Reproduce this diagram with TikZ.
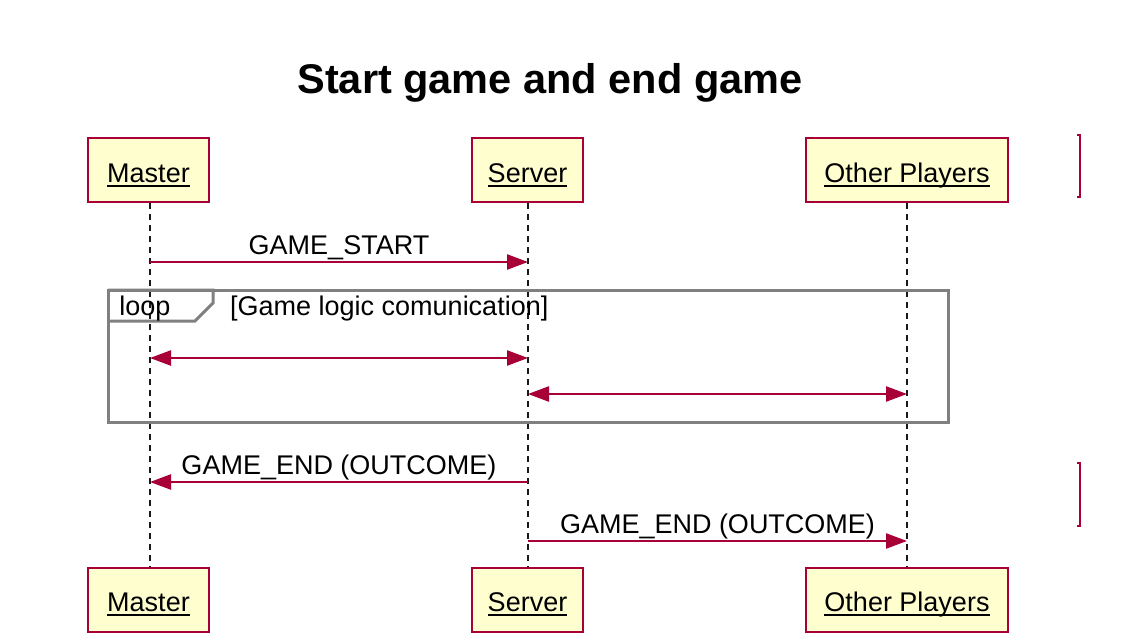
\documentclass[tikz,border=0pt]{standalone}
\usepackage{fontspec}
\setmainfont{Liberation Sans}
\usetikzlibrary{positioning}
\usetikzlibrary{calc}
\usetikzlibrary{arrows.meta}
\definecolor{participant colour}{HTML}{FEFECE}
\definecolor{border colour}{HTML}{A80036}
\colorlet{frame colour}{black!50}
\colorlet{lifeline colour}{black!90}
% participant names are underlined with a heavier rule
\newcommand{\actorname}[1]{\setbox0\hbox{#1}%
    \rlap{\vrule height -2.5pt depth 4.5pt width \wd0}\box0}
\tikzset{
    % Filled triangle tips, as in the sequence chart
    >={Triangle[length=21pt,width=15pt]},
%
    % Define a set of styles
    % First the participant boxes
    participant/.style={
        draw=border colour, line width=2pt, fill=participant colour,
        inner sep=0pt, minimum height=64pt, minimum width=#1,
        text height=28pt, text depth=4pt,
        font=\fontsize{27}{32}\selectfont},
    % Next some lines
    lifeline/.style={color=lifeline colour, line width=2.2pt,
        dash pattern=on 6pt off 5pt},
    message/.style={color=border colour, line width=2.4pt},
    frame/.style={draw=frame colour, line width=3pt},
    % Message labels sit on the baseline just above the arrow
    msg label/.style={anchor=base, yshift=8pt, inner sep=0pt, text=black,
        font=\fontsize{27}{32}\selectfont},
    every node/.style={align=center},
}

\begin{document}
\begin{tikzpicture}[x=1pt, y=-1pt]

\useasboundingbox (0,0) rectangle (1144,637);

\node (title) [anchor=base, font=\fontsize{41.5}{48}\selectfont\bfseries]
    at (550,93) {Start game and end game};

% participants, top and bottom
\path
    (148.5,170) node (master) [participant=121pt] {\actorname{Master}}
    (527.5,170) node (server) [participant=111pt] {\actorname{Server}}
    (907,170) node (others) [participant=202pt] {\actorname{Other Players}}
    (148.5,599.5) node (master end) [participant=121pt] {\actorname{Master}}
    (527.5,599.5) node (server end) [participant=111pt] {\actorname{Server}}
    (907,599.5) node (others end) [participant=202pt] {\actorname{Other Players}};

% lifelines
\draw [lifeline] ($(master.south)+(1.5,0)$) -- ($(master end.north)+(1.5,0)$);
\draw [lifeline] ($(server.south)+(0.5,0)$) -- ($(server end.north)+(0.5,0)$);
\draw [lifeline] (others.south) -- (others end.north);

\coordinate (m) at (150,0);
\coordinate (s) at (528,0);
\coordinate (o) at (907,0);

% loop frame
\draw [frame] (108,290) rectangle (948,422);
\draw [frame] (108,290) -- (213,290) -- (213,303) -- (195,321) -- (108,321);
\node (loop) [anchor=base, inner sep=0pt, font=\fontsize{27}{32}\selectfont]
    at (145,315) {loop};
\node (guard) [anchor=base west, inner sep=0pt,
    font=\fontsize{27}{32}\selectfont]
    at (230,315) {[Game logic comunication]};

% messages
\draw [message, ->] (m |- 0,262) -- (s |- 0,262)
    node [msg label, midway] {GAME\_START};
\draw [message, <->] (m |- 0,358) -- (s |- 0,358);
\draw [message, <->] (s |- 0,394) -- (o |- 0,394);
\draw [message, ->] (s |- 0,482) -- (m |- 0,482)
    node [msg label, midway] {GAME\_END (OUTCOME)};
\draw [message, ->] (s |- 0,541) -- (o |- 0,541)
    node [msg label, midway] {GAME\_END (OUTCOME)};

% marks at the right edge
\draw [border colour, line width=2pt] (1077,135) -- (1080,135) -- (1080,197) -- (1077,197);
\draw [border colour, line width=2pt] (1077,463) -- (1080,463) -- (1080,526) -- (1077,526);

\end{tikzpicture}
\end{document}
